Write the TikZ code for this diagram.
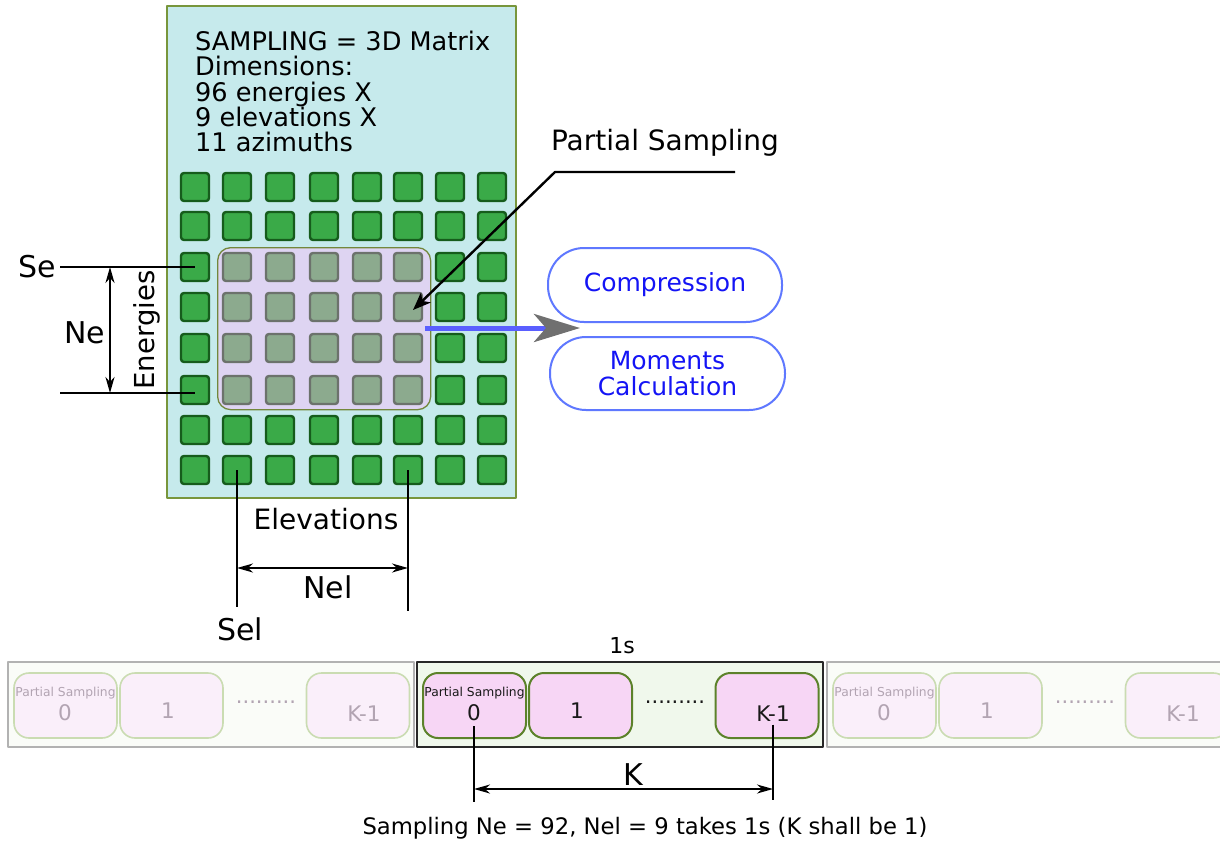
\documentclass[tikz,border=0pt]{standalone}
\usepackage{fontspec}
\setmainfont{DejaVu Sans}
\usetikzlibrary{arrows.meta}
\definecolor{bgcyan}{RGB}{198,234,236}
\definecolor{boxedge}{RGB}{120,150,60}
\definecolor{sqfill}{RGB}{58,170,72}
\definecolor{sqedge}{RGB}{22,92,28}
\definecolor{psfill}{RGB}{222,212,242}
\definecolor{psedge}{RGB}{115,135,60}
\definecolor{gsqfill}{RGB}{140,170,142}
\definecolor{gsqedge}{RGB}{108,114,108}
\definecolor{bluetxt}{RGB}{20,20,245}
\definecolor{blueedge}{RGB}{95,120,255}
\definecolor{bluearrow}{RGB}{90,95,255}
\definecolor{headgray}{RGB}{112,112,112}
\definecolor{ffill}{RGB}{250,252,248}
\definecolor{fedge}{RGB}{178,178,178}
\definecolor{mfill}{RGB}{240,248,236}
\definecolor{medge}{RGB}{40,40,40}
\definecolor{pbfill}{RGB}{247,214,245}
\definecolor{pbedge}{RGB}{92,130,42}
\definecolor{fbfill}{RGB}{250,239,250}
\definecolor{fbedge}{RGB}{202,220,178}
\definecolor{ftxt}{RGB}{178,164,178}
\definecolor{mtxt}{RGB}{25,25,25}
\begin{document}
\begin{tikzpicture}[x=1pt,y=-1pt,line join=round,
  mainbox/.style={draw=boxedge,fill=bgcyan,line width=1.5pt,inner sep=0},
  sq/.style={draw=sqedge,fill=sqfill,line width=2.4pt,minimum size=28pt,inner sep=0,rounded corners=3pt},
  gsq/.style={sq,draw=gsqedge,fill=gsqfill},
  psrect/.style={draw=psedge,fill=psfill,line width=1.3pt,rounded corners=13pt,inner sep=0},
  txt/.style={inner sep=0,text=black},
  dimline/.style={line width=1.9pt,black},
  dimarrow/.style={line width=1.9pt,black,{Stealth[length=16pt,width=9pt,inset=5pt]}-{Stealth[length=16pt,width=9pt,inset=5pt]}},
  pill/.style={draw=blueedge,line width=2pt,rounded corners=36pt,inner sep=0,text=bluetxt,align=center,font=\fontsize{25}{26}\selectfont},
  fframe/.style={draw=fedge,fill=ffill,line width=1.6pt,inner sep=0},
  mframe/.style={draw=medge,fill=mfill,line width=2pt,inner sep=0},
  fbox/.style={draw=fbedge,fill=fbfill,line width=1.6pt,rounded corners=15pt,inner sep=0,minimum width=103pt,minimum height=65pt},
  mbox/.style={draw=pbedge,fill=pbfill,line width=2pt,rounded corners=15pt,inner sep=0,minimum width=103pt,minimum height=65pt},
  ftext/.style={inner sep=0,text=ftxt},
  mtext/.style={inner sep=0,text=mtxt}]
\useasboundingbox (0,0) rectangle (1220,841);
\clip (0,0) rectangle (1220,841);
\fill[white] (0,0) rectangle (1220,841);

% main matrix box
\node[mainbox,minimum width=349pt,minimum height=492pt,anchor=north west] (main) at (166,5) {};
\node[txt,anchor=north west,align=left,font=\fontsize{25.6}{25.2}\selectfont] (title) at (195,31)
  {SAMPLING = 3D Matrix\\Dimensions:\\96 energies X\\9 elevations X\\11 azimuths};

% green squares
\foreach \c/\x in {1/195,2/237,3/280,4/324,5/367,6/408,7/450,8/492}{
  \foreach \r/\y in {1/187,2/226,3/267,4/307,5/348,6/390,7/430,8/470}{
    \node[sq] (sq-\r-\c) at (\x,\y) {};
  }
}
% partial sampling region
\node[psrect,minimum width=213pt,minimum height=162pt,anchor=north west] (ps) at (217,247) {};
\foreach \c/\x in {2/237,3/280,4/324,5/367,6/408}{
  \foreach \r/\y in {3/267,4/307,5/348,6/390}{
    \node[gsq] (gsq-\r-\c) at (\x,\y) {};
  }
}

% energies dimension
\node[txt,anchor=east,font=\fontsize{30}{30}\selectfont] (Se) at (56,267) {Se};
\draw[dimline] ([xshift=4pt]Se.east) -- (sq-3-1.center);
\coordinate (NeL) at (60,393);
\draw[dimline] (NeL) -- (NeL -| sq-6-1.center);
\coordinate (NeT) at (110,267);
\coordinate (NeB) at (110,393);
\draw[dimarrow] (NeT) -- (NeB);
\node[txt,font=\fontsize{30}{30}\selectfont] (Ne) at (85,333) {Ne};
\node[txt,rotate=90,font=\fontsize{27.5}{28}\selectfont] (En) at (147,330) {Energies};

% elevations dimension
\coordinate (ElA) at (237,607);
\coordinate (ElB) at (408,611);
\draw[dimline] (sq-8-2.center) -- (ElA);
\draw[dimline] (sq-8-6.center) -- (ElB);
\coordinate (NelA) at (237,568);
\coordinate (NelB) at (408,568);
\draw[dimarrow] (NelA) -- (NelB);
\node[txt,font=\fontsize{28}{28}\selectfont] (Elev) at (326,519) {Elevations};
\node[txt,font=\fontsize{30}{30}\selectfont] (Nel) at (328,587) {Nel};
\node[txt,font=\fontsize{30}{30}\selectfont] (Sel) at (240,629) {Sel};

% partial sampling leader
\node[txt,font=\fontsize{28}{28}\selectfont] (PSl) at (665,143) {Partial Sampling};
\coordinate (PSa) at (735,172);
\coordinate (PSb) at (555,172);
\draw[line width=2.4pt,black,-{Stealth[length=18pt,width=14pt,inset=5pt]}] (PSa) -- (PSb) -- ([shift={(5,3)}]gsq-4-6.center);

% blue arrow to processing
\node[pill,minimum width=234pt,minimum height=74pt] (comp) at (665,285) {Compression};
\node[pill,minimum width=235pt,minimum height=73pt] (mom) at (667.5,373.5) {Moments\\Calculation};
\coordinate (BA) at (425,328);
\coordinate (BT) at (580,328);
\draw[line width=5pt,bluearrow,-{Stealth[length=46pt,width=28pt,inset=12pt,color=headgray]}] (BA) -- (BT);

% timeline
\node[txt,font=\fontsize{22}{22}\selectfont] (one) at (622,646) {1s};
\foreach \p/\dx/\fr/\bx/\tx in {L/-409/fframe/fbox/ftext,R/410/fframe/fbox/ftext,M/0/mframe/mbox/mtext}{
  \node[\fr,minimum width=406pt,minimum height=85pt] (\p-fr) at (\dx+620,704.5) {};
  \node[\bx] (\p-b0) at (\dx+474.5,705.5) {};
  \node[\bx] (\p-b1) at (\dx+580.5,705.5) {};
  \node[\bx] (\p-bK) at (\dx+767,705.5) {};
  \node[\tx,font=\fontsize{12.3}{13}\selectfont] (\p-ps) at (\dx+474.5,693) {Partial Sampling};
  \node[\tx,font=\fontsize{21.5}{21}\selectfont] (\p-t0) at (\dx+474,713) {0};
  \node[\tx,font=\fontsize{21.5}{21}\selectfont] (\p-t1) at (\dx+577,711) {1};
  \node[\tx,font=\fontsize{21}{21}\selectfont] (\p-dots) at (\dx+675,702) {.........};
  \node[\tx,font=\fontsize{21.5}{21}\selectfont] (\p-tK) at (\dx+773,713.5) {K-1};
}

% K dimension
\coordinate (K0) at (474,802);
\coordinate (K1) at (773,800);
\draw[dimline] ([yshift=-5pt]M-t0.south) -- (K0);
\draw[dimline] ([yshift=-3pt]M-tK.south -| K1) -- (K1);
\coordinate (KA) at (474,789);
\coordinate (KB) at (773,789);
\draw[dimarrow] (KA) -- (KB);
\node[txt,font=\fontsize{30}{30}\selectfont] (K) at (633,775) {K};
\node[txt,font=\fontsize{22.7}{23}\selectfont] (cap) at (645,828) {Sampling Ne = 92, Nel = 9 takes 1s (K shall be 1)};
\end{tikzpicture}
\end{document}
